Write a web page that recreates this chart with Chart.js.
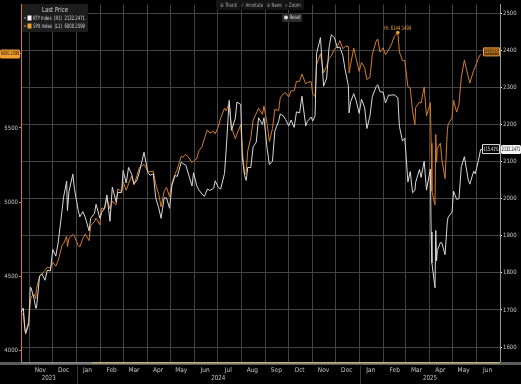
<!DOCTYPE html>
<html>
<head>
<meta charset="utf-8">
<script src="https://cdn.jsdelivr.net/npm/chart.js@4.4.1/dist/chart.umd.min.js"></script>
<style>
html,body{margin:0;padding:0;background:#000;overflow:hidden;}
#wrap{width:521px;height:384px;position:relative;}
canvas{display:block;}
</style>
</head>
<body>
<div id="wrap"><canvas id="c" width="521" height="384"></canvas></div>
<script>
// ---------- DATA ----------
const dates = [
'2023-10-19','2023-10-20','2023-10-24','2023-10-26','2023-10-27','2023-10-31','2023-11-02','2023-11-03','2023-11-07','2023-11-09',
'2023-11-10','2023-11-14','2023-11-17','2023-11-21','2023-11-24','2023-11-28','2023-12-01','2023-12-05','2023-12-08','2023-12-13',
'2023-12-15','2023-12-19','2023-12-20','2023-12-22','2023-12-27','2023-12-29','2024-01-03','2024-01-05','2024-01-09','2024-01-12',
'2024-01-17','2024-01-19','2024-01-24','2024-01-26','2024-01-31','2024-02-02','2024-02-06','2024-02-09','2024-02-13','2024-02-16',
'2024-02-21','2024-02-23','2024-02-28','2024-03-01','2024-03-05','2024-03-08','2024-03-12','2024-03-15','2024-03-19','2024-03-22',
'2024-03-28','2024-04-02','2024-04-05','2024-04-09','2024-04-12','2024-04-16','2024-04-19','2024-04-23','2024-04-26','2024-04-30',
'2024-05-03','2024-05-07','2024-05-10','2024-05-15','2024-05-17','2024-05-21','2024-05-24','2024-05-29','2024-05-31','2024-06-04',
'2024-06-07','2024-06-11','2024-06-14','2024-06-18','2024-06-21','2024-06-26','2024-06-28','2024-07-02','2024-07-05','2024-07-10',
'2024-07-12','2024-07-16','2024-07-19','2024-07-24','2024-07-26','2024-07-31','2024-08-02','2024-08-05','2024-08-07','2024-08-09',
'2024-08-13','2024-08-16','2024-08-20','2024-08-23','2024-08-28','2024-08-30','2024-09-03','2024-09-06','2024-09-10','2024-09-13',
'2024-09-18','2024-09-20','2024-09-24','2024-09-27','2024-10-01','2024-10-04','2024-10-08','2024-10-11','2024-10-15','2024-10-18',
'2024-10-23','2024-10-25','2024-10-30','2024-11-01','2024-11-04','2024-11-06','2024-11-11','2024-11-15','2024-11-19','2024-11-22',
'2024-11-25','2024-11-29','2024-12-03','2024-12-06','2024-12-10','2024-12-13','2024-12-17','2024-12-18','2024-12-20','2024-12-24',
'2024-12-27','2024-12-31','2025-01-03','2025-01-07','2025-01-10','2025-01-14','2025-01-17','2025-01-22','2025-01-24','2025-01-27',
'2025-01-31','2025-02-03','2025-02-07','2025-02-11','2025-02-14','2025-02-19','2025-02-21','2025-02-25','2025-02-28','2025-03-04',
'2025-03-07','2025-03-10','2025-03-13','2025-03-14','2025-03-19','2025-03-21','2025-03-25','2025-03-28','2025-04-02','2025-04-03',
'2025-04-04','2025-04-08','2025-04-09','2025-04-10','2025-04-11','2025-04-15','2025-04-17','2025-04-21','2025-04-24','2025-04-25',
'2025-04-30','2025-05-02','2025-05-06','2025-05-09','2025-05-12','2025-05-16','2025-05-21','2025-05-23','2025-05-28','2025-05-30',
'2025-06-03','2025-06-06'
];
const spx = [
4278,4224,4248,4137,4117,4194,4318,4358,4379,4347,
4415,4496,4514,4538,4559,4554,4594,4567,4604,4707,
4719,4768,4698,4755,4781,4770,4705,4697,4756,4784,
4739,4840,4869,4891,4846,4959,4955,5027,4953,5006,
4982,5089,5070,5137,5079,5124,5175,5117,5179,5234,
5254,5205,5204,5209,5123,5051,4967,5071,5100,5036,
5128,5187,5223,5308,5303,5321,5305,5267,5278,5292,
5347,5375,5431,5487,5465,5478,5460,5509,5567,5634,
5615,5667,5505,5427,5459,5522,5346,5186,5199,5344,
5434,5554,5597,5634,5592,5648,5529,5408,5496,5626,
5618,5703,5732,5738,5709,5751,5751,5815,5815,5864,
5797,5808,5813,5729,5712,5929,6001,5871,5917,5969,
5987,6032,6049,6090,6035,6051,6051,5872,5930,6040,
5971,5882,5942,5909,5827,5843,5997,6087,6101,6012,
6041,5994,6026,6068,6115,6144.15,6013,5955,5955,5778,
5770,5615,5522,5639,5675,5668,5777,5581,5671,5397,
5074,4982,5457,5268,5363,5397,5283,5158,5485,5525,
5569,5687,5607,5660,5844,5958,5845,5803,5889,5912,
5970,6000.26
];
const rty = [
1705,1689,1705,1650,1636,1662,1761,1760,1729,1705,
1705,1792,1797,1780,1807,1805,1863,1845,1881,1967,
2004,2047,1968,2019,2066,2027,1968,1951,1965,1950,
1913,1947,1960,1985,1947,1962,1974,2010,1939,2031,
1991,2017,2016,2076,2042,2084,2066,2039,2051,2072,
2125,2070,2063,2067,2003,1975,1947,2002,2002,1974,
2035,2062,2060,2098,2095,2090,2069,2034,2070,2035,
2023,2012,2006,2026,2022,2028,2048,2030,2026,2068,
2128,2265,2184,2217,2260,2254,2109,2062,2049,2084,
2084,2140,2152,2218,2200,2218,2136,2092,2101,2182,
2209,2228,2223,2213,2196,2212,2192,2234,2231,2276,
2196,2208,2220,2209,2224,2392,2434,2303,2325,2406,
2442,2434,2406,2409,2385,2346,2305,2231,2261,2283,
2265,2230,2268,2246,2189,2223,2275,2302,2307,2288,
2287,2258,2279,2279,2280,2272,2195,2155,2163,2045,
2073,2016,2022,2044,2079,2057,2101,2023,2080,1910,
1827,1760,1914,1832,1860,1882,1880,1849,1940,1950,
1964,2020,1998,2000,2086,2113,2050,2039,2074,2067,
2102,2132.25
];
const monthLabels = ['Nov','Dec','Jan','Feb','Mar','Apr','May','Jun','Jul','Aug','Sep','Oct','Nov','Dec','Jan','Feb','Mar','Apr','May','Jun'];
const yearLabels = ['2023','2024','2025'];
const leftTicks = [4000,4500,5000,5500,6000];
const rightTicks = [1600,1700,1800,1900,2000,2100,2200,2300,2400,2500];

// ---------- helpers ----------
const day = s => Date.UTC(+s.slice(0,4), +s.slice(5,7)-1, +s.slice(8,10)) / 864e5;
const xMin = day('2023-10-21'), xMax = day('2025-07-01');
const monthStarts = [], monthMids = [];
for (let y = 2023, m = 10; !(y === 2025 && m === 6); ) {
  monthStarts.push(Date.UTC(y, m, 1) / 864e5);
  monthMids.push(Date.UTC(y, m, 15) / 864e5);
  m++; if (m > 11) { m = 0; y++; }
}
monthStarts.push(Date.UTC(2025, 6, 1) / 864e5);
const FONT = "'Liberation Sans Narrow','DejaVu Sans Condensed','Liberation Sans',sans-serif";
const ORANGE = '#d27c2a', TAG = '#f0a030', WHITE = '#d8d8d8', GRID = '#434343';

const spxPts = dates.map((d, i) => ({x: day(d), y: spx[i]}));
const rtyPts = dates.map((d, i) => ({x: day(d), y: rty[i]}));

function rr(ctx, x, y, w, h, r, fill, stroke) {
  ctx.beginPath(); ctx.roundRect(x, y, w, h, r);
  if (fill) { ctx.fillStyle = fill; ctx.fill(); }
  if (stroke) { ctx.strokeStyle = stroke; ctx.lineWidth = 1; ctx.stroke(); }
}
// draw text, squeezed horizontally if wider than maxW
function fitText(ctx, text, x, y, maxW, align) {
  ctx.save();
  ctx.textAlign = align || 'left';
  ctx.textBaseline = 'middle';
  const w = ctx.measureText(text).width;
  const k = w > maxW ? maxW / w : 1;
  ctx.translate(x, y); ctx.scale(k, 1);
  ctx.fillText(text, 0, 0);
  ctx.restore();
}

const overlay = {
  id: 'overlay',
  beforeDraw(chart) {
    const c = chart.ctx; c.save(); c.fillStyle = '#000'; c.fillRect(0, 0, chart.width, chart.height); c.restore();
  },
  afterDraw(chart) {
    const c = chart.ctx, xs = chart.scales.x, yL = chart.scales.yL, yR = chart.scales.yR, ca = chart.chartArea;
    c.save();
    // bottom slider band
    c.fillStyle = '#5c5c5c'; c.fillRect(0, ca.bottom - 1, chart.width, 3);
    c.fillStyle = '#8a8a8a'; c.fillRect(ca.left, ca.bottom - 1, 92 - ca.left, 1.5);
    c.fillStyle = '#c4b282'; c.fillRect(92, ca.bottom - 1, ca.right - 92, 1.5);
    // year separators and labels
    const y24 = xs.getPixelForValue(day('2024-01-01')), y25 = xs.getPixelForValue(day('2025-01-01'));
    c.strokeStyle = '#3a3a3a'; c.lineWidth = 1;
    [y24, y25].forEach(px => { c.beginPath(); c.moveTo(Math.round(px) + 0.5, ca.bottom + 3); c.lineTo(Math.round(px) + 0.5, chart.height); c.stroke(); });
    c.fillStyle = '#c8c8c8'; c.font = '7px ' + FONT;
    const yc = [(ca.left + y24) / 2, (y24 + y25) / 2, (y25 + ca.right) / 2];
    yearLabels.forEach((t, i) => fitText(c, t, yc[i], 378, 14, 'center'));

    // legend box
    rr(c, 22, 4, 66, 28, 1, '#1c1c1c');
    c.fillStyle = '#d8d8d8'; c.font = '7px ' + FONT;
    fitText(c, 'Last Price', 55, 10.5, 26, 'center');
    c.fillStyle = '#666'; c.fillRect(24, 17, 2, 2); c.fillRect(24, 25, 2, 2);
    c.fillStyle = '#ffffff'; c.fillRect(27.5, 15.5, 4, 5);
    c.fillStyle = TAG; c.fillRect(27.5, 23.5, 4, 5);
    c.font = '6px ' + FONT; c.fillStyle = '#d8d8d8';
    fitText(c, 'RTY Index  (R1)  2132.2471', 33, 18, 52, 'left');
    fitText(c, 'SPX Index  (L1)  6000.2599', 33, 26, 52, 'left');

    // toolbar
    rr(c, 216, 0, 88, 10, 1, '#141414');
    c.fillStyle = '#a8a8a8'; c.font = '6px ' + FONT;
    fitText(c, '\u2261 Track', 220, 5, 17, 'left');
    fitText(c, '\u2713 Annotate', 241, 5, 22, 'left');
    fitText(c, '\u2261 News', 267, 5, 15, 'left');
    fitText(c, '\u2315 Zoom', 285, 5, 16, 'left');
    rr(c, 282, 13, 20, 9, 1.5, '#2c2c2c');
    c.beginPath(); c.arc(286, 17.5, 2, 0, Math.PI * 2); c.fillStyle = '#ddd'; c.fill();
    c.fillStyle = '#d8d8d8';
    fitText(c, 'Reset', 289.5, 17.5, 11, 'left');

    // high annotation
    const hiIdx = spx.indexOf(Math.max(...spx));
    const hx = xs.getPixelForValue(day(dates[hiIdx])), hy = yL.getPixelForValue(spx[hiIdx]);
    c.beginPath(); c.arc(hx, hy, 1.8, 0, Math.PI * 2); c.fillStyle = TAG; c.fill();
    c.font = '6px ' + FONT;
    fitText(c, 'Hi: 6144.1499', hx, hy - 4.5, 27, 'center');

    // last value markers
    const n = dates.length - 1;
    const lx = xs.getPixelForValue(day(dates[n]));
    const lyS = yL.getPixelForValue(spx[n]);
    const lyR = yR.getPixelForValue(rty[n]);
    c.strokeStyle = WHITE; c.lineWidth = 1;
    c.beginPath(); c.moveTo(lx, lyR); c.lineTo(ca.right, lyR); c.stroke();
    c.font = '6px ' + FONT;
    rr(c, 482.5, lyR - 5, 17, 9, 0, '#000', '#e0e0e0');
    c.fillStyle = '#e8e8e8'; fitText(c, '115.41%', 491, lyR - 0.5, 15, 'center');
    rr(c, 483.5, lyS - 6, 16, 8, 0, '#6e400c', TAG);
    c.fillStyle = '#f6b050'; fitText(c, '115.91%', 491.5, lyS - 2, 14, 'center');
    rr(c, 501, lyR - 4.5, 20, 9, 1.5, '#f4f4f4');
    c.fillStyle = '#000'; fitText(c, '2132.2471', 511, lyR, 18.5, 'center');
    rr(c, 0, lyS - 4.5, 20, 9, 1.5, TAG);
    c.fillStyle = '#1a0e00'; fitText(c, '6000.2599', 10, lyS, 18.5, 'center');
    c.restore();
  }
};

const fmt = v => String(v);

new Chart(document.getElementById('c'), {
  type: 'line',
  data: {
    datasets: [
      {label: 'RTY Index', data: rtyPts, yAxisID: 'yR', xAxisID: 'x', borderColor: WHITE, borderWidth: 1, pointRadius: 0, tension: 0, order: 0},
      {label: 'SPX Index', data: spxPts, yAxisID: 'yL', xAxisID: 'x', borderColor: ORANGE, borderWidth: 1, pointRadius: 0, tension: 0, order: 1}
    ]
  },
  options: {
    responsive: false, animation: false, devicePixelRatio: 1,
    layout: {padding: 0},
    plugins: {legend: {display: false}, tooltip: {enabled: false}, title: {display: false}},
    scales: {
      x: {
        type: 'linear', position: 'bottom', min: xMin, max: xMax, weight: 2,
        afterBuildTicks: s => { s.ticks = monthStarts.map(v => ({value: v})); },
        ticks: {display: false},
        grid: {color: GRID, lineWidth: 1, drawTicks: false},
        border: {display: false},
        afterFit: s => { s.height = 0; }
      },
      xm: {
        type: 'linear', position: 'bottom', min: xMin, max: xMax, weight: 1,
        afterBuildTicks: s => { s.ticks = monthMids.map(v => ({value: v})); },
        ticks: {autoSkip: false, maxRotation: 0, minRotation: 0, color: '#c8c8c8', font: {size: 6.5, family: FONT}, padding: 3,
          callback: (v, i) => monthLabels[i]},
        grid: {display: false, drawTicks: false},
        border: {display: false},
        afterFit: s => { s.height = 21; }
      },
      yL: {
        type: 'linear', position: 'left', min: 3913, max: 6333,
        afterBuildTicks: s => { s.ticks = leftTicks.map(v => ({value: v})); },
        ticks: {color: '#c8c8c8', font: {size: 6, family: FONT}, padding: 1, callback: fmt},
        grid: {drawOnChartArea: false, color: ORANGE, tickLength: 2},
        border: {color: ORANGE},
        afterFit: s => { s.width = 21; }
      },
      yR: {
        type: 'linear', position: 'right', min: 1557, max: 2523,
        afterBuildTicks: s => { s.ticks = rightTicks.map(v => ({value: v})); },
        ticks: {color: '#c8c8c8', font: {size: 6, family: FONT}, padding: 1, callback: fmt},
        grid: {color: GRID, tickColor: '#ffffff', tickLength: 2},
        border: {color: '#9a9a9a'},
        afterFit: s => { s.width = 21; }
      }
    }
  },
  plugins: [overlay]
});
</script>
</body>
</html>
